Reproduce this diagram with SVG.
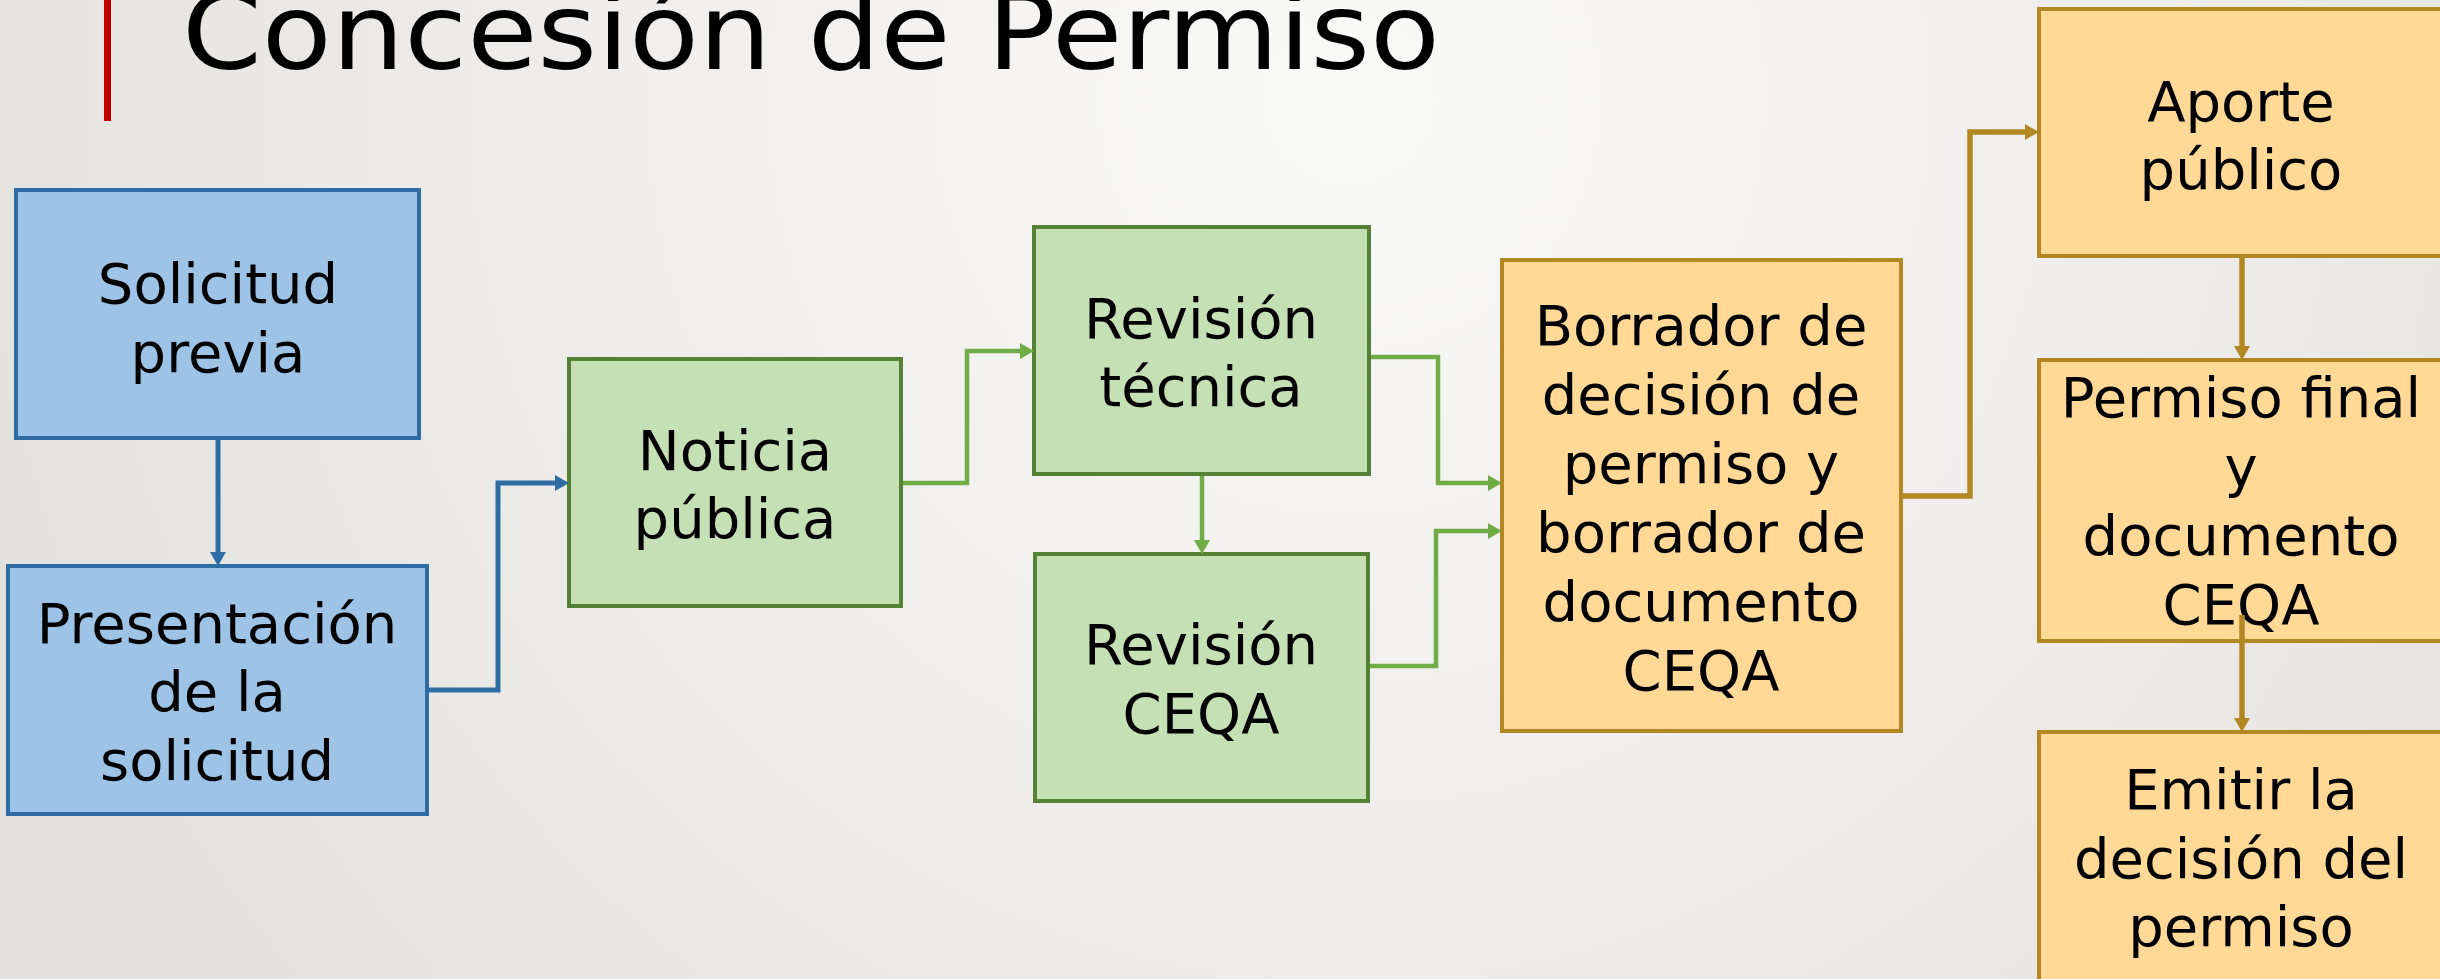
<svg xmlns="http://www.w3.org/2000/svg" width="2440" height="979" viewBox="0 0 2440 979">
<defs>
<radialGradient id="bg" gradientUnits="userSpaceOnUse" cx="1350" cy="100" r="1450">
<stop offset="0" stop-color="#F9F9F8"/>
<stop offset="0.5" stop-color="#EFEEEC"/>
<stop offset="1" stop-color="#E2E1DD"/>
</radialGradient>
<marker id="ab" viewBox="0 0 14 16" refX="4" refY="8" markerWidth="14" markerHeight="16" markerUnits="userSpaceOnUse" orient="auto"><path d="M0,0 L14,8 L0,16 z" fill="#2E6DA4"/></marker>
<marker id="ag" viewBox="0 0 14 16" refX="4" refY="8" markerWidth="14" markerHeight="16" markerUnits="userSpaceOnUse" orient="auto"><path d="M0,0 L14,8 L0,16 z" fill="#70AD47"/></marker>
<marker id="ao" viewBox="0 0 14 16" refX="4" refY="8" markerWidth="14" markerHeight="16" markerUnits="userSpaceOnUse" orient="auto"><path d="M0,0 L14,8 L0,16 z" fill="#B38722"/></marker>
</defs>
<style>
.t{font-family:"DejaVu Sans","Liberation Sans",sans-serif;font-size:56px;fill:#000;text-anchor:middle}
.blue{fill:#9DC3E6;stroke:#2E6DA4;stroke-width:4}
.green{fill:#C5E0B4;stroke:#548235;stroke-width:4}
.orange{fill:#FFD995;stroke:#B38722;stroke-width:4}
.cb{fill:none;stroke:#2E6DA4;stroke-width:5}
.cg{fill:none;stroke:#70AD47;stroke-width:4.5}
.co{fill:none;stroke:#B38722;stroke-width:5.5}
</style>
<rect x="0" y="0" width="2440" height="979" fill="url(#bg)"/>
<g id="title">
<rect x="104" y="0" width="7" height="121" fill="#C00000"/>
<text x="182" y="69" font-family="DejaVu Sans, sans-serif" font-size="105" fill="#000" textLength="1258" lengthAdjust="spacingAndGlyphs">Concesión de Permiso</text>
</g>
<g id="n1"><rect class="blue" x="16" y="190" width="403" height="248"/>
<text class="t" x="218" y="303">Solicitud</text><text class="t" x="218" y="372">previa</text></g>
<g id="n2"><rect class="blue" x="8" y="566" width="419" height="248"/>
<text class="t" x="217" y="643">Presentación</text><text class="t" x="217" y="711">de la</text><text class="t" x="217" y="780">solicitud</text></g>
<g id="n3"><rect class="green" x="569" y="359" width="332" height="247"/>
<text class="t" x="735" y="470">Noticia</text><text class="t" x="735" y="538">pública</text></g>
<g id="n4"><rect class="green" x="1034" y="227" width="335" height="247"/>
<text class="t" x="1201" y="338">Revisión</text><text class="t" x="1201" y="406">técnica</text></g>
<g id="n5"><rect class="green" x="1035" y="554" width="333" height="247"/>
<text class="t" x="1201" y="664">Revisión</text><text class="t" x="1201" y="733">CEQA</text></g>
<g id="n6"><rect class="orange" x="1502" y="260" width="399" height="471"/>
<text class="t" x="1701" y="345">Borrador de</text><text class="t" x="1701" y="414">decisión de</text><text class="t" x="1701" y="483">permiso y</text><text class="t" x="1701" y="552">borrador de</text><text class="t" x="1701" y="621">documento</text><text class="t" x="1701" y="690">CEQA</text></g>
<g id="n7"><rect class="orange" x="2039" y="9" width="404" height="247"/>
<text class="t" x="2241" y="121">Aporte</text><text class="t" x="2241" y="189">público</text></g>
<g id="n8"><rect class="orange" x="2039" y="360" width="404" height="281"/>
<text class="t" x="2241" y="417">Permiso final</text><text class="t" x="2241" y="486">y</text><text class="t" x="2241" y="555">documento</text><text class="t" x="2241" y="624">CEQA</text></g>
<g id="n9"><rect class="orange" x="2039" y="732" width="404" height="260"/>
<text class="t" x="2241" y="809">Emitir la</text><text class="t" x="2241" y="878">decisión del</text><text class="t" x="2241" y="946">permiso</text></g>
<g id="connectors">
<path class="cb" d="M218,440 V556" marker-end="url(#ab)"/>
<path class="cb" d="M429,690 H498 V483 H559" marker-end="url(#ab)"/>
<path class="cg" d="M903,483 H967 V351 H1024" marker-end="url(#ag)"/>
<path class="cg" d="M1202,476 V544" marker-end="url(#ag)"/>
<path class="cg" d="M1371,357 H1438 V483 H1492" marker-end="url(#ag)"/>
<path class="cg" d="M1370,666 H1436 V531 H1492" marker-end="url(#ag)"/>
<path class="co" d="M1903,496 H1970 V132 H2029" marker-end="url(#ao)"/>
<path class="co" d="M2242,258 V350" marker-end="url(#ao)"/>
<path class="co" d="M2242,615 V722" marker-end="url(#ao)"/>
</g>
</svg>
